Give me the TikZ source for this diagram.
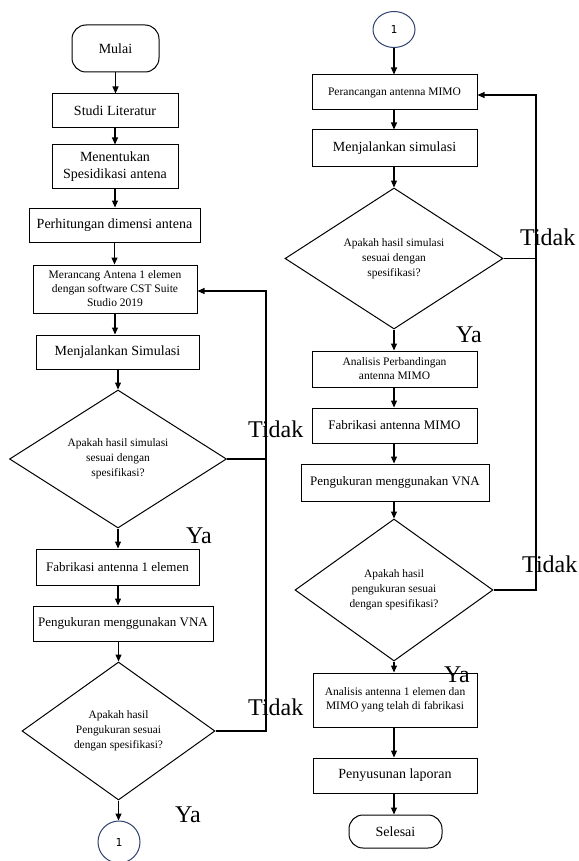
\documentclass[tikz,border=0pt]{standalone}
\usepackage{fontspec}
\setmainfont{Liberation Serif}
\newfontfamily\monofnt{DejaVu Sans Mono}
\usetikzlibrary{arrows.meta,shapes.geometric}
\definecolor{navy}{RGB}{47,66,110}
\newcommand\fsz[2]{\fontsize{#1}{#2}\selectfont}
\tikzset{
 shp/.style={draw=black, line width=1pt, align=center, inner sep=0pt},
 proc/.style={shp, rectangle},
 term/.style={shp, rectangle, rounded corners=14pt},
 dec/.style={shp, diamond, aspect=1.5, font=\fsz{11.4}{15}},
 conn/.style={draw=navy, line width=1pt, ellipse, inner sep=0pt, font=\monofnt\fsz{11}{13}},
 arr/.style={line width=1.1pt, -{Triangle[length=7pt,width=6pt]}},
 ln/.style={line width=1.1pt},
 lbl/.style={inner sep=0pt, font=\fsz{24}{26}},
 big/.style={font=\fsz{14}{17}},
 mid/.style={font=\fsz{13}{15}},
 sml/.style={font=\fsz{11.5}{14}},
}
\begin{document}
\begin{tikzpicture}[x=1pt,y=-1pt]
\fill[white] (0,0) rectangle (578,861);
\useasboundingbox (0,0) rectangle (578,861);
% left column
\node[term, big, minimum width=87pt, minimum height=47pt] (mulai) at (115.5,48.5) {Mulai};
\node[proc, big, minimum width=126pt, minimum height=34pt] (studi) at (115,111) {Studi Literatur};
\node[proc, big, minimum width=126pt, minimum height=43pt] (tentu) at (115,166.5) {Menentukan\\Spesidikasi antena};
\node[proc, big, minimum width=171pt, minimum height=34pt] (hitung) at (114.5,225) {Perhitungan dimensi antena};
\node[proc, sml, minimum width=164pt, minimum height=48pt] (rancang) at (115,289) {Merancang Antena 1 elemen\\dengan software CST Suite\\Studio 2019};
\node[proc, big, minimum width=163pt, minimum height=34pt] (sim1) at (117.5,352) {Menjalankan Simulasi};
\node[dec, minimum width=217pt, minimum height=138pt] (dec1) at (118,459) {Apakah hasil simulasi\\sesuai dengan\\spesifikasi?};
\node[proc, mid, minimum width=163pt, minimum height=36pt] (fab1) at (117.5,567) {Fabrikasi antenna 1 elemen};
\node[proc, mid, minimum width=180pt, minimum height=35pt] (vna1) at (123,623.5) {Pengukuran menggunakan VNA};
\node[dec, minimum width=193pt, minimum height=138pt] (dec2) at (118.5,731) {Apakah hasil\\Pengukuran sesuai\\dengan spesifikasi?};
\node[conn, minimum width=42pt, minimum height=42pt] (c1) at (119,842) {1};
% right column
\node[conn, minimum width=42pt, minimum height=36pt] (c2) at (394,29.5) {1};
\node[proc, sml, minimum width=165pt, minimum height=35pt] (ranc2) at (394.5,92.5) {Perancangan antenna MIMO};
\node[proc, big, minimum width=165pt, minimum height=37pt] (sim2) at (394.5,148.5) {Menjalankan simulasi};
\node[dec, minimum width=218pt, minimum height=141pt] (dec3) at (394,258.5) {Apakah hasil simulasi\\sesuai dengan\\spesifikasi?};
\node[proc, sml, minimum width=165pt, minimum height=36pt] (banding) at (394.5,369) {Analisis Perbandingan\\antenna MIMO};
\node[proc, mid, minimum width=165pt, minimum height=35pt] (fab2) at (394.5,425.5) {Fabrikasi antenna MIMO};
\node[proc, mid, minimum width=188pt, minimum height=37pt] (vna2) at (395,482.5) {Pengukuran menggunakan VNA};
\node[dec, minimum width=198pt, minimum height=142pt] (dec4) at (394,590) {Apakah hasil\\pengukuran sesuai\\dengan spesifikasi?};
\node[proc, sml, minimum width=164pt, minimum height=54pt] (analisis) at (395,700) {Analisis antenna 1 elemen dan\\MIMO yang telah di fabrikasi};
\node[proc, big, minimum width=164pt, minimum height=35pt] (lapor) at (395,775.5) {Penyusunan laporan};
\node[term, big, minimum width=93pt, minimum height=33pt] (selesai) at (395.5,831.5) {Selesai};
% left arrows
\draw[arr] (mulai.south) -- (mulai.south |- studi.north);
\draw[arr] (studi.south) -- (studi.south |- tentu.north);
\draw[arr] (tentu.south) -- (tentu.south |- hitung.north);
\draw[arr] (hitung.south) -- (hitung.south |- rancang.north);
\draw[arr] (rancang.south) -- (rancang.south |- sim1.north);
\draw[arr] (dec1.north |- sim1.south) -- (dec1.north);
\draw[arr] (dec1.south) -- (dec1.south |- fab1.north);
\draw[arr] (dec1.south |- fab1.south) -- (dec1.south |- vna1.north);
\draw[arr] (dec2.north |- vna1.south) -- (dec2.north);
\draw[arr] (dec2.south) -- (dec2.south |- c1.north);
% right arrows
\draw[arr] (c2.south) -- (c2.south |- ranc2.north);
\draw[arr] (c2.south |- ranc2.south) -- (c2.south |- sim2.north);
\draw[arr] (dec3.north |- sim2.south) -- (dec3.north);
\draw[arr] (dec3.south) -- (dec3.south |- banding.north);
\draw[arr] (dec3.south |- banding.south) -- (dec3.south |- fab2.north);
\draw[arr] (dec3.south |- fab2.south) -- (dec3.south |- vna2.north);
\draw[arr] (dec4.north |- vna2.south) -- (dec4.north);
\draw[arr] (dec4.south) -- (dec4.south |- analisis.north);
\draw[arr] (dec4.south |- analisis.south) -- (dec4.south |- lapor.north);
\draw[arr] (dec4.south |- lapor.south) -- (dec4.south |- selesai.north);
% return loops
\coordinate (rl) at (266,291);
\draw[arr] (dec2.east) -| (rl) -- (rl -| rancang.east);
\draw[ln] (dec1.east) -- (dec1.east -| rl);
\coordinate (rr) at (536,95);
\draw[arr] (dec4.east) -| (rr) -- (rr -| ranc2.east);
\draw[ln] (dec3.east) -- (dec3.east -| rr);
% labels
\node[lbl, anchor=base west] (t1) at (248,437) {Tidak};
\node[lbl, anchor=base west] (t2) at (248,715) {Tidak};
\node[lbl, anchor=base west] (t3) at (520,245) {Tidak};
\node[lbl, anchor=base west] (t4) at (522,572) {Tidak};
\node[lbl, anchor=base west] (y1) at (186,543) {Ya};
\node[lbl, anchor=base west] (y2) at (175,822) {Ya};
\node[lbl, anchor=base west] (y3) at (456,342) {Ya};
\node[lbl, anchor=base west] (y4) at (444,682) {Ya};
\end{tikzpicture}
\end{document}
